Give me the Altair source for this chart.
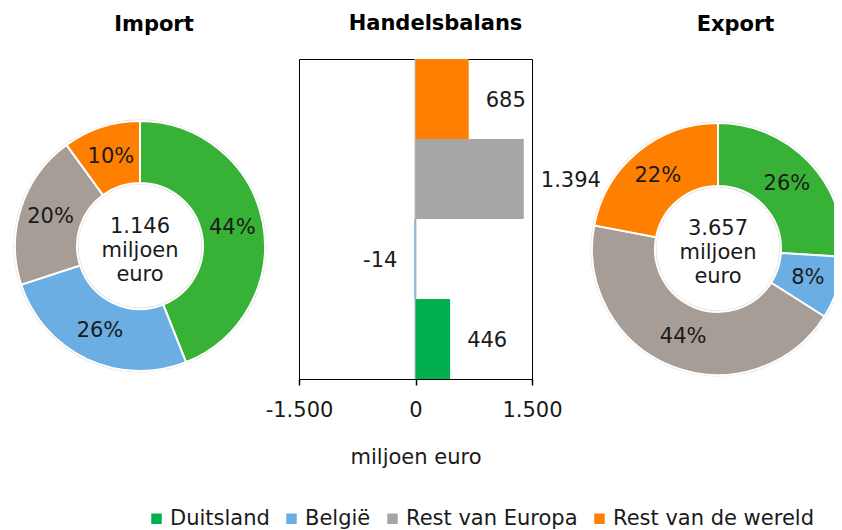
import altair as alt
import pandas as pd

# ---- data ----
categories = ["Duitsland", "België", "Rest van Europa", "Rest van de wereld"]
import_pct = [44, 26, 20, 10]
export_pct = [26, 8, 44, 22]
balance = [446, -14, 1394, 685]
import_total = "1.146"
export_total = "3.657"
unit_lines = ["miljoen", "euro"]
x_ticks = [-1500, 0, 1500]
bar_order = ["Rest van de wereld", "Rest van Europa", "België", "Duitsland"]

donut_colors = ["#38B236", "#6AAEE3", "#A69D96", "#FF7F00"]
bar_colors = ["#00B050", "#6AAEE3", "#A6A6A6", "#FF7F00"]

FONT = "DejaVu Sans"
FS = 21
TXT = "#1A1A1A"
RING = "#D9D9D9"


def nl(v):
    return f"{v:,}".replace(",", ".")


def donut(pcts, total, title, W, H, cx, R, r, title_dx, text_dy):
    df = pd.DataFrame({
        "cat": categories,
        "pct": pcts,
        "ord": list(range(len(categories))),
        "label": [f"{p}%" for p in pcts],
    })
    pos = dict(x=alt.value(cx), y=alt.value(H / 2))
    base = alt.Chart(df).encode(
        theta=alt.Theta("pct:Q", stack=True),
        order=alt.Order("ord:Q"),
        **pos,
    )
    ring_df = pd.DataFrame({"k": [0]})
    outer_ring = alt.Chart(ring_df).mark_arc(
        theta=0, theta2=6.2832, outerRadius=R + 1.5, innerRadius=R, color=RING, clip=True
    ).encode(**pos)
    inner_ring = alt.Chart(ring_df).mark_arc(
        theta=0, theta2=6.2832, outerRadius=r, innerRadius=r - 1.5, color=RING
    ).encode(**pos)
    arcs = base.mark_arc(outerRadius=R, innerRadius=r, stroke="white", strokeWidth=2, clip=True).encode(
        color=alt.Color("cat:N", scale=alt.Scale(domain=categories, range=donut_colors), legend=None)
    )
    labels = base.mark_text(radius=(R + r) / 2, font=FONT, fontSize=FS, color=TXT).encode(
        text="label:N"
    )
    cdf = pd.DataFrame({"t": ["\n".join([total] + unit_lines)]})
    center = alt.Chart(cdf).mark_text(
        font=FONT, fontSize=FS, color=TXT, lineBreak="\n", lineHeight=24, baseline="middle"
    ).encode(text="t:N", x=alt.value(cx), y=alt.value(H / 2 + text_dy))
    return alt.layer(outer_ring, inner_ring, arcs, labels, center).properties(
        width=W,
        height=H,
        title=alt.TitleParams(title, font=FONT, fontSize=FS, fontWeight="bold", color="black",
                              anchor="middle", dx=title_dx, offset=24),
        view=alt.ViewBackground(strokeWidth=0),
    )


imp = donut(import_pct, import_total, "Import", 264, 374, 132, 125, 63, 14, -19)
exp = donut(export_pct, export_total, "Export", 275, 380, 159, 126, 63, 39, -20)

bdf = pd.DataFrame({"cat": categories, "val": balance, "label": [nl(v) for v in balance]})

xenc = alt.X(
    "val:Q",
    scale=alt.Scale(domain=[-1500, 1500], nice=False, zero=False),
    axis=alt.Axis(
        values=x_ticks,
        labelExpr="replace(replace(format(datum.value, ','), ',', '.'), '\u2212', '-')",
        title="miljoen euro",
        grid=False,
        domainColor="black",
        domainWidth=1,
        tickColor="black",
        tickSize=6,
        tickWidth=1.5,
        labelFont=FONT,
        labelFontSize=FS,
        labelColor=TXT,
        labelPadding=14,
        labelFlush=False,
        labelOverlap=False,
        titleFont=FONT,
        titleFontSize=FS,
        titleFontWeight="normal",
        titleColor=TXT,
        titlePadding=26,
    ),
)
yenc = alt.Y("cat:N", sort=bar_order, scale=alt.Scale(paddingInner=0, paddingOuter=0), axis=None)

bars = alt.Chart(bdf).mark_bar().encode(
    x=xenc,
    y=yenc,
    color=alt.Color(
        "cat:N",
        scale=alt.Scale(domain=categories, range=bar_colors),
        legend=alt.Legend(
            orient="none", direction="horizontal", legendX=-153, legendY=449, title=None,
            symbolType="square", symbolSize=110, symbolStrokeWidth=0, labelFont=FONT,
            labelFontSize=FS, labelColor=TXT, labelOffset=3, columnPadding=11, padding=0,
            labelLimit=400,
        ),
    ),
)
zero = alt.Chart(pd.DataFrame({"z": [0]})).mark_rule(color="#BFBFBF", strokeWidth=2).encode(x="z:Q")
pos_labels = alt.Chart(bdf).transform_filter("datum.val >= 0").mark_text(
    align="left", dx=17, dy=2, font=FONT, fontSize=FS, color=TXT
).encode(x="val:Q", y=yenc, text="label:N")
neg_labels = alt.Chart(bdf).transform_filter("datum.val < 0").mark_text(
    align="right", dx=-17, dy=2, font=FONT, fontSize=FS, color=TXT
).encode(x="val:Q", y=yenc, text="label:N")

bar = alt.layer(zero, bars, pos_labels, neg_labels).properties(
    width=233,
    height=320,
    title=alt.TitleParams("Handelsbalans", font=FONT, fontSize=FS, fontWeight="bold", color="black",
                          anchor="middle", dx=20, offset=24),
    view=alt.ViewBackground(stroke="black", strokeWidth=1),
)

chart = alt.hconcat(imp, bar, exp, spacing=27, bounds="flush").resolve_scale(
    color="independent", theta="independent"
).properties(
    padding={"left": 0, "top": 4, "right": 0, "bottom": 0}
).configure_view(strokeWidth=0)

chart.save("out.html", embed_options={"renderer": "svg", "actions": False})
